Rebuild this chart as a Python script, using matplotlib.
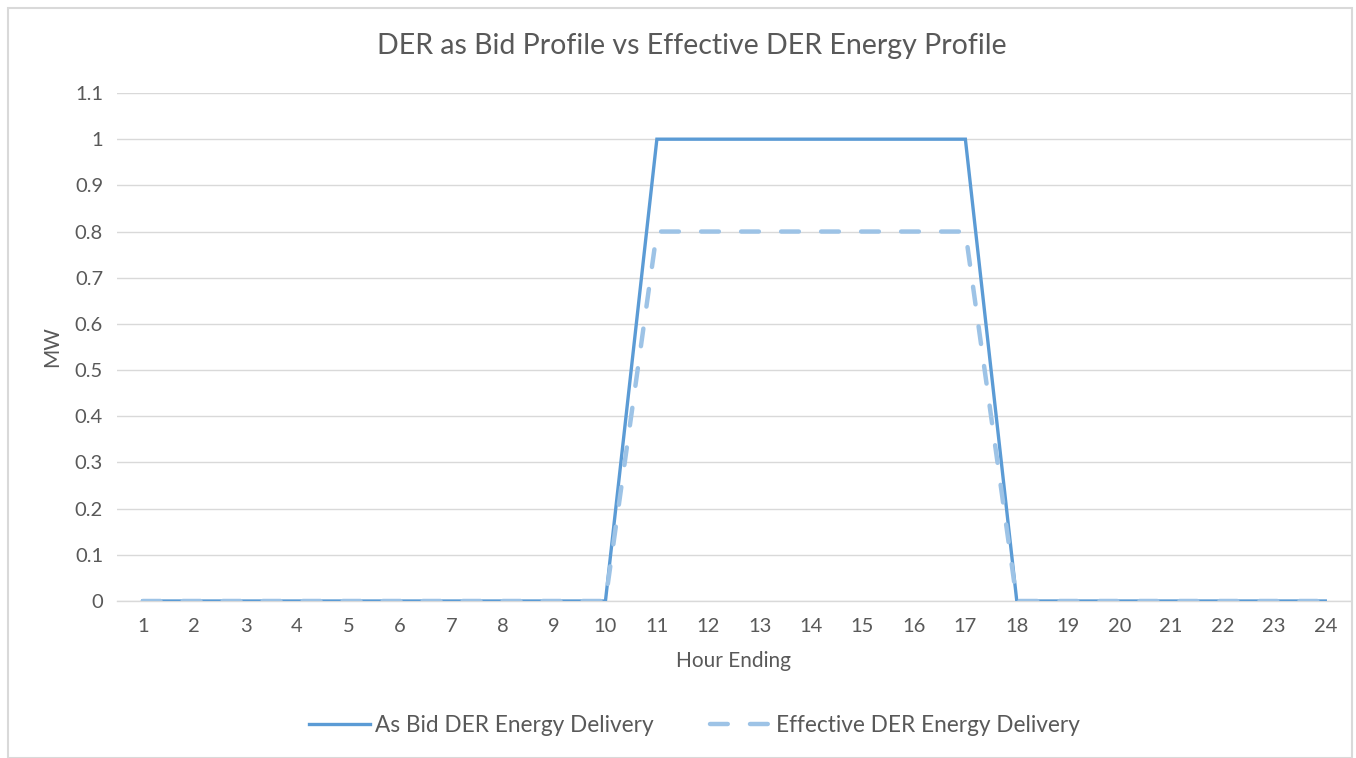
import matplotlib

matplotlib.use("Agg")
import matplotlib.pyplot as plt
from matplotlib.patches import Rectangle

hours = list(range(1, 25))
as_bid = [0] * 10 + [1] * 7 + [0] * 7
effective = [0] * 10 + [0.8] * 7 + [0] * 7
y_ticks = [0, 0.1, 0.2, 0.3, 0.4, 0.5, 0.6, 0.7, 0.8, 0.9, 1, 1.1]
y_labels = ["0", "0.1", "0.2", "0.3", "0.4", "0.5", "0.6", "0.7", "0.8", "0.9", "1", "1.1"]

plt.rcParams["font.family"] = ["Lato", "DejaVu Sans"]
text_color = "#595959"
grid_color = "#D9D9D9"

fig = plt.figure(figsize=(13.56, 7.58), dpi=100)
ax = fig.add_axes([117 / 1356, 1 - 601 / 758, (1351 - 117) / 1356, (601 - 93) / 758])

ax.plot(hours, as_bid, color="#5B9BD5", lw=2.4, solid_joinstyle="miter",
        label="As Bid DER Energy Delivery", zorder=3)
ax.plot(hours, effective, color="#9DC3E6", lw=3.2, dashes=(4.0, 5.0),
        dash_capstyle="round", label="Effective DER Energy Delivery", zorder=4)

ax.set_xlim(0.5, 24.5)
ax.set_ylim(0, 1.1)
ax.set_xticks(hours)
ax.set_xticklabels([str(h) for h in hours])
ax.set_yticks(y_ticks)
ax.set_yticklabels(y_labels)
ax.tick_params(length=0, labelsize=14.5, colors=text_color, pad=10)
ax.tick_params(axis="x", pad=12)
ax.yaxis.grid(True, color=grid_color, lw=1)
ax.set_axisbelow(True)
for side in ["left", "right", "top"]:
    ax.spines[side].set_visible(False)
ax.spines["bottom"].set_color(grid_color)
ax.spines["bottom"].set_linewidth(1)

ax.set_xlabel("Hour Ending", fontsize=15, color=text_color, labelpad=12)
ax.set_ylabel("MW", fontsize=15, color=text_color, labelpad=9)
fig.text(0.51, 1 - 46 / 758, "DER as Bid Profile vs Effective DER Energy Profile",
         ha="center", va="center", fontsize=20.5, color=text_color)

fig.legend(loc="center", bbox_to_anchor=(0.512, 1 - 725 / 758), ncol=2, frameon=False,
           fontsize=16.3, handlelength=2.7, handletextpad=0.22, columnspacing=2.5,
           labelcolor=text_color)

fig.patches.append(Rectangle((8 / 1356, 0), 1344 / 1356, 1 - 8 / 758, transform=fig.transFigure,
                             fill=False, edgecolor=grid_color, lw=1.5))

fig.savefig("out.png", dpi=100)
